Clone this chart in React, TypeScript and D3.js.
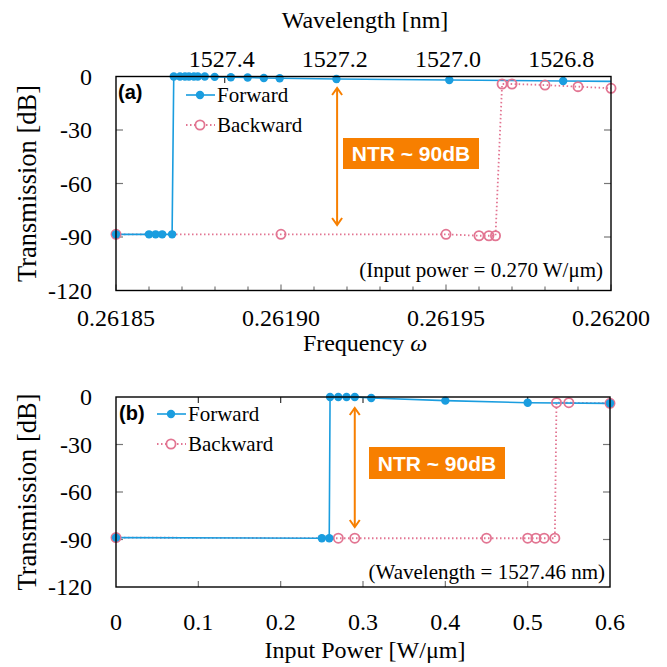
import React from "react";
import * as d3 from "d3";

// ---- Panel (a): transmission vs frequency ----
const fwdFreq = [0.26185, 0.26186, 0.261862, 0.261864, 0.261867, 0.2618675, 0.2618694, 0.2618709, 0.2618721, 0.2618736, 0.2618748, 0.2618769, 0.2618799, 0.2618848, 0.2618899, 0.2618948, 0.2618996, 0.2619168, 0.261951, 0.2619855, 0.26203];
const fwdFreqT = [-88.5, -88.5, -88.5, -88.5, -88.5, 0, 0, 0, 0, 0, 0, 0, -0.2, -0.4, -0.6, -0.8, -1.0, -1.4, -2.0, -2.5, -3.3];
const bwdFreq = [0.26185, 0.2619, 0.26195, 0.26196, 0.261963, 0.261965, 0.261967, 0.26197, 0.26198, 0.26199, 0.262];
const bwdFreqT = [-88.5, -88.5, -88.5, -89.3, -89.3, -89.3, -4.2, -4.2, -4.8, -5.7, -6.6];
const freqTicks = [0.26185, 0.2619, 0.26195, 0.262];
const freqTickLabels = ["0.26185", "0.26190", "0.26195", "0.26200"];
const wavelengthTicks = [1527.4, 1527.2, 1527.0, 1526.8];
const wavelengthTickLabels = ["1527.4", "1527.2", "1527.0", "1526.8"];

// ---- Panel (b): transmission vs input power ----
const fwdPow = [0, 0.25, 0.259, 0.26, 0.27, 0.28, 0.29, 0.31, 0.4, 0.5, 0.6];
const fwdPowT = [-88.8, -89.2, -89.2, 0, 0, 0, 0, -0.6, -2.3, -3.6, -4.0];
const bwdPow = [0, 0.27, 0.29, 0.45, 0.5, 0.51, 0.52, 0.533, 0.535, 0.55, 0.6];
const bwdPowT = [-88.8, -89.2, -89.2, -89.2, -89.2, -89.2, -89.2, -89.2, -3.6, -3.6, -4.0];
const powTicks = [0, 0.1, 0.2, 0.3, 0.4, 0.5, 0.6];
const powTickLabels = ["0", "0.1", "0.2", "0.3", "0.4", "0.5", "0.6"];

const yTicks = [0, -30, -60, -90, -120];
const yTickLabels = ["0", "-30", "-60", "-90", "-120"];

const BLUE = "#1a9ddf";
const PINK = "#e27592";
const ORANGE = "#f77f00";
const TICK = "#777";
const SERIF = "'Liberation Serif', 'Times New Roman', serif";
const SANS = "'Liberation Sans', Arial, sans-serif";

type P = { x: number; y: number };
const zip = (xs: number[], ys: number[]): P[] => xs.map((x, i) => ({ x, y: ys[i] }));

function Arrow({ x, y1, y2 }: { x: number; y1: number; y2: number }) {
  const h = 7, w = 5;
  return (
    <g stroke={ORANGE} strokeWidth={2} fill="none">
      <line x1={x} x2={x} y1={y1} y2={y2} />
      <polyline points={`${x - w},${y1 + h} ${x},${y1} ${x + w},${y1 + h}`} />
      <polyline points={`${x - w},${y2 - h} ${x},${y2} ${x + w},${y2 - h}`} />
    </g>
  );
}

function Legend({ x, y }: { x: number; y: number }) {
  return (
    <g>
      <line x1={x} x2={x + 29} y1={y} y2={y} stroke={BLUE} strokeWidth={1.6} />
      <circle cx={x + 14} cy={y} r={4.2} fill={BLUE} />
      <text x={x + 31} y={y + 7} fontFamily={SERIF} fontSize={21}>Forward</text>
      <line x1={x} x2={x + 29} y1={y + 30} y2={y + 30} stroke={PINK} strokeWidth={1.8} strokeDasharray="1.5,2.5" />
      <circle cx={x + 14} cy={y + 30} r={4.6} fill="white" stroke={PINK} strokeWidth={1.8} />
      <text x={x + 31} y={y + 37} fontFamily={SERIF} fontSize={21}>Backward</text>
    </g>
  );
}

function Series({ fwd, bwd, xs, ys, clipId }: { fwd: P[]; bwd: P[]; xs: d3.ScaleLinear<number, number>; ys: d3.ScaleLinear<number, number>; clipId: string }) {
  const line = d3.line<P>().x((d) => xs(d.x)).y((d) => ys(d.y));
  const [x0, x1] = xs.domain();
  const inDom = (d: P) => d.x >= x0 - 1e-12 && d.x <= x1 + 1e-12;
  return (
    <g>
      <path d={line(bwd) || ""} fill="none" stroke={PINK} strokeWidth={1.8} strokeDasharray="1.5,2.5" clipPath={`url(#${clipId})`} />
      <path d={line(fwd) || ""} fill="none" stroke={BLUE} strokeWidth={1.6} clipPath={`url(#${clipId})`} />
      {bwd.filter(inDom).map((d, i) => (
        <circle key={"b" + i} cx={xs(d.x)} cy={ys(d.y)} r={4.6} fill="none" stroke={PINK} strokeWidth={1.8} />
      ))}
      {fwd.filter(inDom).map((d, i) => (
        <circle key={"f" + i} cx={xs(d.x)} cy={ys(d.y)} r={4.2} fill={BLUE} />
      ))}
    </g>
  );
}

function YAxis({ ys, left, right }: { ys: d3.ScaleLinear<number, number>; left: number; right: number }) {
  return (
    <g>
      {yTicks.map((t, i) => (
        <g key={i}>
          {i > 0 && i < yTicks.length - 1 && (
            <>
              <line x1={left} x2={left + 7} y1={ys(t)} y2={ys(t)} stroke={TICK} strokeWidth={1.2} />
              <line x1={right - 7} x2={right} y1={ys(t)} y2={ys(t)} stroke={TICK} strokeWidth={1.2} />
            </>
          )}
          <text x={92} y={ys(t) + 8} textAnchor="end" fontFamily={SERIF} fontSize={24}>{yTickLabels[i]}</text>
        </g>
      ))}
    </g>
  );
}

export default function App() {
  const xA = d3.scaleLinear().domain([0.26185, 0.262]).range([116, 611]);
  const yA = d3.scaleLinear().domain([-120, 0]).range([290.5, 76.5]);
  const xB = d3.scaleLinear().domain([0, 0.6]).range([116, 610]);
  const yB = d3.scaleLinear().domain([-120, 0]).range([587, 397]);

  const minorFreq = d3.range(0, 16).map((i) => 0.26185 + i * 0.00001);

  return (
    <svg width={667} height={667} style={{ position: "absolute", left: 0, top: 0, background: "white" }}>
      <defs>
        <clipPath id="clipA"><rect x={116} y={0} width={495} height={667} /></clipPath>
        <clipPath id="clipB"><rect x={116} y={0} width={494} height={667} /></clipPath>
      </defs>

      {/* ---------- Panel (a) ---------- */}
      <text x={365} y={28} textAnchor="middle" fontFamily={SERIF} fontSize={24}>Wavelength [nm]</text>
      {wavelengthTicks.map((w, i) => (
        <g key={i}>
          <line x1={xA(400 / w)} x2={xA(400 / w)} y1={76.5} y2={83} stroke="#333" strokeWidth={1.2} />
          <text x={xA(400 / w) - 3} y={67} textAnchor="middle" fontFamily={SERIF} fontSize={24}>{wavelengthTickLabels[i]}</text>
        </g>
      ))}
      {minorFreq.map((f, i) => (
        <line key={i} x1={xA(f)} x2={xA(f)} y1={290.5} y2={290.5 - (i % 5 === 0 ? 6 : 4)} stroke={TICK} strokeWidth={1.2} />
      ))}
      {freqTicks.map((f, i) => (
        <text key={i} x={xA(f)} y={326} textAnchor="middle" fontFamily={SERIF} fontSize={24}>{freqTickLabels[i]}</text>
      ))}
      <text x={365} y={351} textAnchor="middle" fontFamily={SERIF} fontSize={24}>
        Frequency <tspan fontStyle="italic">ω</tspan>
      </text>
      <YAxis ys={yA} left={116} right={611} />
      <text transform={`translate(36,${183.5}) rotate(-90)`} textAnchor="middle" fontFamily={SERIF} fontSize={26.5}>Transmission [dB]</text>

      <Series fwd={zip(fwdFreq, fwdFreqT)} bwd={zip(bwdFreq, bwdFreqT)} xs={xA} ys={yA} clipId="clipA" />
      <rect x={116} y={76.5} width={495} height={214} fill="none" stroke="black" strokeWidth={1.4} />

      <text x={118} y={99} fontFamily={SANS} fontWeight="bold" fontSize={20}>(a)</text>
      <Legend x={186} y={95} />
      <Arrow x={xA(0.261917)} y1={88} y2={225} />
      <rect x={343} y={138} width={136} height={31} fill={ORANGE} />
      <text x={411} y={161} textAnchor="middle" fontFamily={SANS} fontWeight="bold" fontSize={21} fill="white">NTR ~ 90dB</text>
      <text x={603} y={277} textAnchor="end" fontFamily={SERIF} fontSize={21}>(Input power = 0.270 W/μm)</text>

      {/* ---------- Panel (b) ---------- */}
      {powTicks.map((p, i) => (
        <g key={i}>
          {i > 0 && i < powTicks.length - 1 && (
            <>
              <line x1={xB(p)} x2={xB(p)} y1={587} y2={581} stroke={TICK} strokeWidth={1.2} />
              <line x1={xB(p)} x2={xB(p)} y1={397} y2={403} stroke="#333" strokeWidth={1.2} />
            </>
          )}
          <text x={xB(p)} y={630} textAnchor="middle" fontFamily={SERIF} fontSize={24}>{powTickLabels[i]}</text>
        </g>
      ))}
      <text x={365} y={658} textAnchor="middle" fontFamily={SERIF} fontSize={24}>Input Power [W/μm]</text>
      <YAxis ys={yB} left={116} right={610} />
      <text transform={`translate(36,${492}) rotate(-90)`} textAnchor="middle" fontFamily={SERIF} fontSize={26.5}>Transmission [dB]</text>

      <Series fwd={zip(fwdPow, fwdPowT)} bwd={zip(bwdPow, bwdPowT)} xs={xB} ys={yB} clipId="clipB" />
      <rect x={116} y={397} width={494} height={190} fill="none" stroke="black" strokeWidth={1.4} />

      <text x={119} y={420} fontFamily={SANS} fontWeight="bold" fontSize={20}>(b)</text>
      <Legend x={157} y={414} />
      <Arrow x={xB(0.29)} y1={408} y2={527} />
      <rect x={369} y={447} width={136} height={32} fill={ORANGE} />
      <text x={437} y={470.5} textAnchor="middle" fontFamily={SANS} fontWeight="bold" fontSize={21} fill="white">NTR ~ 90dB</text>
      <text x={605} y={579} textAnchor="end" fontFamily={SERIF} fontSize={21}>(Wavelength = 1527.46 nm)</text>
    </svg>
  );
}
